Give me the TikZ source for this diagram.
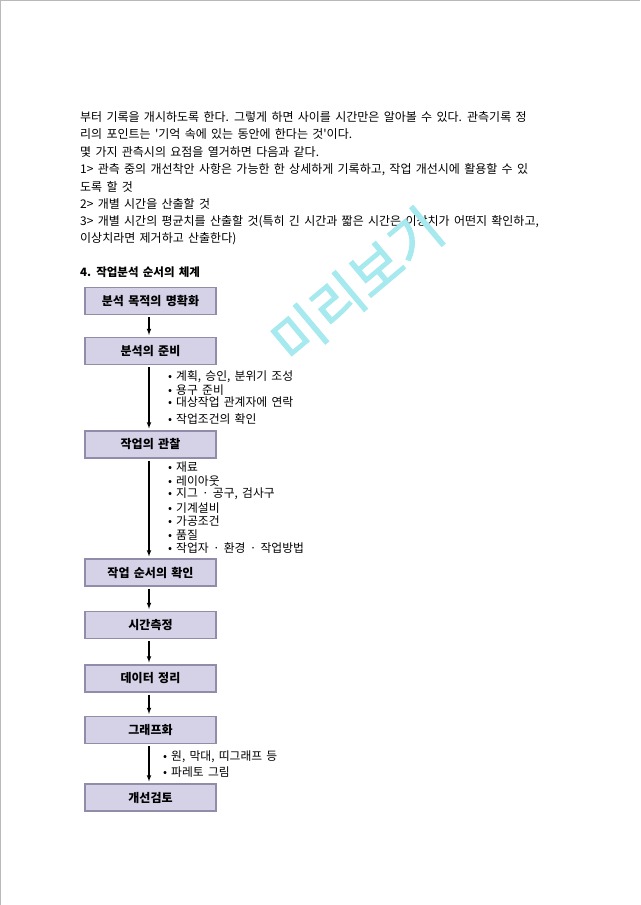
\documentclass[tikz,border=0pt]{standalone}
\usepackage{fontspec}
\newfontfamily\kr[WordSpace=1.6]{Noto Sans CJK KR}
\newfontfamily\krmark[FakeBold=1.8]{Noto Sans CJK KR}
\usetikzlibrary{arrows}
\definecolor{boxfill}{HTML}{D5D2E8}
\definecolor{boxline}{HTML}{8F8DAA}
\definecolor{wmark}{HTML}{A6E9EE}

\begin{document}
\begin{tikzpicture}[>=latex, x=1pt, y=-1pt, font=\kr]
\tikzset{
  stepbox/.style={draw=boxline, fill=boxfill, line width=1.2pt, minimum width=131pt,
    minimum height=27pt, inner sep=0pt, font=\kr\bfseries\fontsize{12}{14}\selectfont},
  bodyline/.style={anchor=west, inner sep=0pt, font=\kr\fontsize{12}{14}\selectfont},
  itemline/.style={anchor=west, inner sep=0pt, font=\kr\fontsize{11.8}{13}\selectfont},
  flow/.style={->, line width=1.1pt, shorten >=2pt, shorten <=2pt}
}
\useasboundingbox (0,0) rectangle (640,905);

%\draw[step=20, gray!30] (0,0) grid (640,905);

\draw[gray!55, line width=1pt] (0.5,905) -- (0.5,0.5) -- (640,0.5);

	\foreach \y/\t [count=\i] in {
		117/{부터 기록을 개시하도록 한다. 그렇게 하면 사이를 시간만은 알아볼 수 있다. 관측기록 정},
		134/{리의 포인트는 '기억 속에 있는 동안에 한다는 것'이다.},
		152/{몇 가지 관측시의 요점을 열거하면 다음과 같다.},
		170/{1> 관측 중의 개선착안 사항은 가능한 한 상세하게 기록하고, 작업 개선시에 활용할 수 있},
		187/{도록 할 것},
		204/{2> 개별 시간을 산출할 것},
		222/{3> 개별 시간의 평균치를 산출할 것(특히 긴 시간과 짧은 시간은 이상치가 어떤지 확인하고,},
		239/{이상치라면 제거하고 산출한다)}}
		\node[bodyline] (txt\i) at (80,\y) {\t};

\node[anchor=west, inner sep=0pt, font=\kr\bfseries\fontsize{11.5}{13}\selectfont] (title) at (80,272) {4. 작업분석 순서의 체계};

\node[stepbox] (purpose) at (150.5,301) {분석 목적의 명확화};
\node[stepbox] (prep) at (150.5,351) {분석의 준비};
\node[stepbox] (observe) at (150.5,444.5) {작업의 관찰};
\node[stepbox] (order) at (150.5,572.5) {작업 순서의 확인};
\node[stepbox] (timing) at (150.5,625) {시간측정};
\node[stepbox] (data) at (150.5,678.5) {데이터 정리};
\node[stepbox] (graph) at (150.5,730) {그래프화};
\node[stepbox] (review) at (150.5,797.5) {개선검토};

	\foreach \a/\b in {purpose/prep, prep/observe, observe/order, order/timing,
		timing/data, data/graph, graph/review}
		\draw[flow] ([xshift=-1.5pt]\a.south) -- ([xshift=-1.5pt]\b.north);

	\foreach \y/\t [count=\i] in {377/{계획, 승인, 분위기 조성}, 390/{용구 준비},
		402/{대상작업 관계자에 연락}, 419/{작업조건의 확인}}
		\node[itemline] (prep\i) at (168,\y) {•\hspace{4pt}\t};

	\foreach \y/\t [count=\i] in {467/{재료}, 481/{레이아웃}, 494/{지그 · 공구, 검사구},
		508/{기계설비}, 521/{가공조건}, 535/{품질}, 548/{작업자 · 환경 · 작업방법}}
		\node[itemline] (obs\i) at (168,\y) {•\hspace{4pt}\t};

	\foreach \y/\t [count=\i] in {757/{원, 막대, 띠그래프 등}, 772/{파레토 그림}}
		\node[itemline] (grf\i) at (163,\y) {•\hspace{4pt}\t};

% watermark
\node[rotate=40, text=wmark, font=\krmark\fontsize{55}{55}\selectfont] (wm) at (357,285) {미리보기};

\end{tikzpicture}
\end{document}
